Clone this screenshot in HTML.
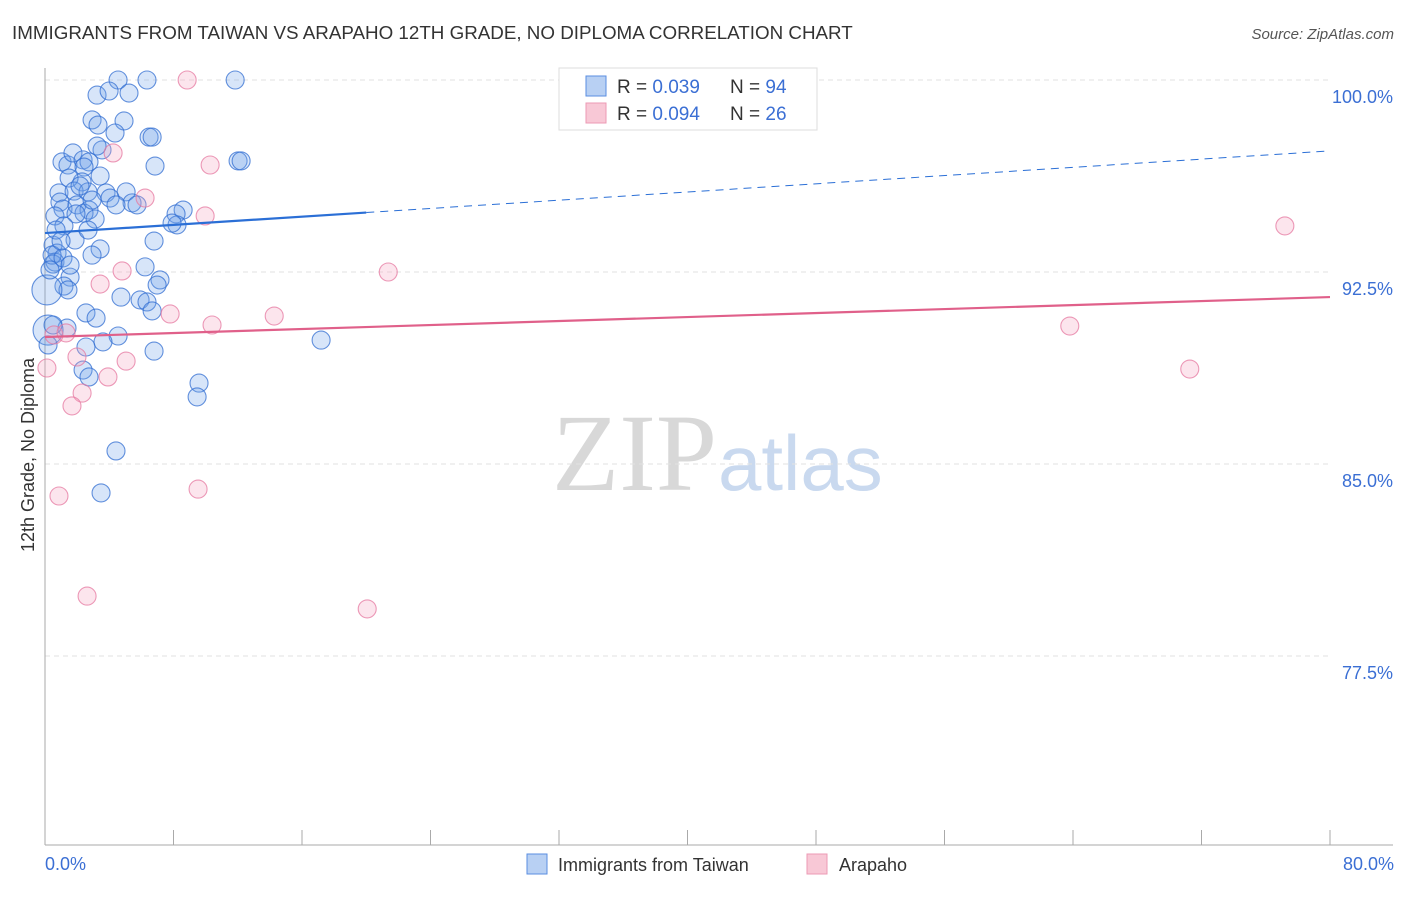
<!DOCTYPE html>
<html><head><meta charset="utf-8"><style>
body{margin:0;background:#fff;font-family:"Liberation Sans",sans-serif;}
svg text{font-family:"Liberation Sans",sans-serif;}
</style></head><body>
<svg id="chart" width="1406" height="892" xmlns="http://www.w3.org/2000/svg">
<text x="12" y="39" font-size="18.8" fill="#333">IMMIGRANTS FROM TAIWAN VS ARAPAHO 12TH GRADE, NO DIPLOMA CORRELATION CHART</text>
<text x="1394" y="39" font-size="15" fill="#555" font-style="italic" text-anchor="end">Source: ZipAtlas.com</text>
<g>
<text x="552" y="490" font-size="110" fill="#d8d8d8" font-family="Liberation Serif" style="font-family:'Liberation Serif',serif">ZIP</text>
<text x="718" y="490" font-size="78" fill="#c9d9ef">atlas</text>
</g>
<g id="grid"></g>
<g id="axes"></g>
<g id="pts"></g>
<g id="trends"></g>
<g>
<rect x="559" y="68" width="258" height="62" fill="#fff" stroke="#ddd"/>
<rect x="586" y="76" width="20" height="20" fill="#b8d0f3" stroke="#5a8ee0"/>
<rect x="586" y="103" width="20" height="20" fill="#f8c8d6" stroke="#ec9ab4"/>
<text x="617" y="93" font-size="19" fill="#333">R = <tspan fill="#3b6fd4">0.039</tspan></text>
<text x="730" y="93" font-size="19" fill="#333">N = <tspan fill="#3b6fd4">94</tspan></text>
<text x="617" y="120" font-size="19" fill="#333">R = <tspan fill="#3b6fd4">0.094</tspan></text>
<text x="730" y="120" font-size="19" fill="#333">N = <tspan fill="#3b6fd4">26</tspan></text>
</g>
<text transform="translate(34,455) rotate(-90)" font-size="18" fill="#333" text-anchor="middle">12th Grade, No Diploma</text>
<text x="45" y="870" font-size="18" fill="#3b6fd4">0.0%</text>
<text x="1394" y="870" font-size="18" fill="#3b6fd4" text-anchor="end">80.0%</text>
<g>
<rect x="527" y="854" width="20" height="20" fill="#b8d0f3" stroke="#5a8ee0"/>
<text x="558" y="871" font-size="18" fill="#333">Immigrants from Taiwan</text>
<rect x="807" y="854" width="20" height="20" fill="#f8c8d6" stroke="#ec9ab4"/>
<text x="839" y="871" font-size="18" fill="#333">Arapaho</text>
</g>
</svg>
<script>
const yTicks=[100,92.5,85,77.5];
const yTickLabels=["100.0%","92.5%","85.0%","77.5%"];
const taiwanX=[4.55,6.35,11.84,3.24,3.99,5.23,2.93,3.30,4.92,4.36,6.48,6.67,1.06,1.43,1.74,2.37,3.55,3.24,2.74,3.43,2.43,6.85,12.02,12.21,2.31,1.50,0.87,1.81,2.68,3.80,5.05,4.05,5.42,0.93,1.12,1.99,2.74,2.43,1.93,0.62,3.12,1.18,1.87,0.50,0.75,3.43,0.62,2.93,6.23,0.50,7.16,6.98,1.56,1.18,1.43,6.79,8.60,8.16,8.22,7.91,4.73,5.92,6.35,6.67,2.55,3.18,1.37,0.19,4.55,3.61,2.55,6.79,17.19,2.37,2.74,9.59,9.47,4.42,3.49,0.12,0.19,0.50,0.44,0.69,1.12,2.68,4.42,1.56,1.00,0.31,2.18,2.93,5.73];
const taiwanY=[100,100,100,99.41,99.57,99.49,98.44,98.24,98.40,97.93,97.77,97.77,96.80,96.68,97.15,96.88,97.27,97.42,96.80,96.25,96.60,96.64,96.84,96.84,96.02,96.17,95.59,95.66,95.63,95.59,95.63,95.39,95.20,95.23,94.96,95.12,94.92,94.80,94.77,94.69,94.57,94.30,93.75,93.55,93.24,93.40,92.89,93.16,92.70,92.81,92.19,91.99,92.30,91.95,91.80,93.71,94.92,94.77,94.34,94.41,91.52,91.41,91.33,90.98,90.90,90.70,90.31,90.23,90.00,89.77,89.57,89.41,89.84,88.67,88.40,88.16,87.62,85.51,83.87,91.80,89.65,90.43,93.16,94.14,93.05,94.14,95.12,92.77,93.71,92.58,95.86,95.31,95.12];
const taiwanBig=[0.19,0.12];
const arapahoX=[8.85,4.24,10.28,6.23,9.97,4.80,3.43,7.79,10.40,14.27,21.37,77.19,63.80,71.27,0.56,1.31,1.99,0.12,5.05,3.92,2.31,1.68,0.87,9.53,2.62,20.06];
const arapahoY=[100,97.15,96.68,95.39,94.69,92.54,92.03,90.86,90.43,90.78,92.50,94.30,90.39,88.71,90.04,90.12,89.18,88.75,89.02,88.40,87.77,87.27,83.75,84.02,79.84,79.34];
const taiwanTrend=[94.02,97.23];
const arapahoTrend=[89.96,91.52];
const NS="http://www.w3.org/2000/svg";
function sx(v){return 45+v/80*1285;}
function sy(v){return 80+(100-v)*25.6;}
function mk(t,a,p){const e=document.createElementNS(NS,t);for(const k in a)e.setAttribute(k,a[k]);p.appendChild(e);return e;}
const grid=document.getElementById('grid');
yTicks.forEach((t,i)=>{
 const l=mk('line',{x1:45,x2:1330,y1:sy(t),y2:sy(t),stroke:'#e2e2e2','stroke-dasharray':'5,4'},grid);
 
 
 const tx=mk('text',{x:1393,y:sy(t)+23,'font-size':18,fill:'#3b6fd4','text-anchor':'end'},grid);
 tx.textContent=yTickLabels[i];
 
 
});
const axes=document.getElementById('axes');
mk('line',{x1:45,x2:45,y1:68,y2:845,stroke:'#aaa'},axes);
mk('line',{x1:45,x2:1393,y1:845,y2:845,stroke:'#aaa'},axes);
for(let i=0;i<=10;i++){
 const t=mk('line',{x1:sx(i*8),x2:sx(i*8),y1:830,y2:845,stroke:'#aaa'},axes);
 
 
}
const pts=document.getElementById('pts');
taiwanX.forEach((x,i)=>{
 const big=(x===0.19&&taiwanY[i]>90)||(x===0.12);
 const c=mk('circle',{cx:sx(x),cy:sy(taiwanY[i]),r:big?15:9,fill:'rgba(110,160,235,0.28)',stroke:'rgba(50,110,210,0.75)','stroke-width':1.1},pts);
 
 
});
arapahoX.forEach((x,i)=>{
 const c=mk('circle',{cx:sx(x),cy:sy(arapahoY[i]),r:9,fill:'rgba(245,160,190,0.28)',stroke:'rgba(230,120,160,0.75)','stroke-width':1.1},pts);
 
 
});
const tr=document.getElementById('trends');
const ty=x=>taiwanTrend[0]+(taiwanTrend[1]-taiwanTrend[0])*x/80;
const l1=mk('line',{x1:sx(0),y1:sy(ty(0)),x2:sx(20),y2:sy(ty(20)),stroke:'#2b6fd6','stroke-width':2.2},tr);


const l2=mk('line',{x1:sx(20),y1:sy(ty(20)),x2:sx(80),y2:sy(ty(80)),stroke:'#2b6fd6','stroke-width':1,'stroke-dasharray':'8,6'},tr);


const l3=mk('line',{x1:sx(0),y1:sy(arapahoTrend[0]),x2:sx(80),y2:sy(arapahoTrend[1]),stroke:'#e0608a','stroke-width':2.2},tr);


</script>
</body></html>
